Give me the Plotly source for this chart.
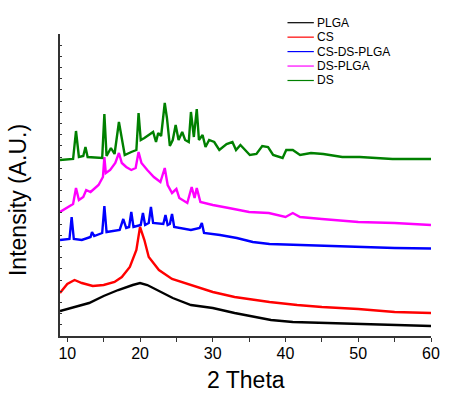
import plotly.graph_objects as go

# ---- data (2θ in degrees, intensity in arbitrary units) ----
series_names = ["PLGA", "CS", "CS-DS-PLGA", "DS-PLGA", "DS"]
series_colors = ["#000000", "#ff0000", "#0000ff", "#ff00ff", "#008000"]

plga_theta = [9, 11, 13, 15, 17, 19, 20, 21, 23, 24.5, 27, 30, 33, 36, 38, 41, 45, 50, 55, 60]
plga_int = [25, 29, 33, 40, 46, 51, 53, 51, 44, 38, 31, 28, 23, 19, 16, 14, 13, 12, 11, 10]

cs_theta = [9, 10, 11, 12, 13.5, 15, 16.5, 17.5, 18.6, 19.5, 20.0, 20.6, 21.2, 22.6, 24.4,
            27, 30, 33, 37.8, 41.6, 45, 50, 55, 60]
cs_int = [43, 52, 56, 53, 50, 51, 54, 59, 69, 86, 109, 96, 79, 66, 57,
          51, 44, 39, 34, 31, 29, 27, 24, 23]

csdsplga_theta = [9, 10.3, 10.6, 10.9, 12, 13.2, 13.4, 13.7, 14.8, 15.1, 15.4, 17.2, 17.7, 18.1,
                  18.5, 18.8, 19.1, 20.1, 20.4, 20.7, 21.2, 21.5, 21.8, 23.2, 23.5, 23.8, 24.1,
                  24.4, 24.7, 27, 28.2, 28.5, 28.8, 31, 33.3, 35.5, 37.8, 41.5, 45, 50, 55, 60]
csdsplga_int = [96, 97, 119, 97, 96, 99, 104, 100, 103, 130, 104, 106, 117, 108,
                109, 124, 109, 111, 123, 111, 113, 129, 113, 112, 121, 111, 112,
                122, 109, 106, 108, 113, 103, 101, 98, 94, 92, 91, 90, 89, 88, 87.5]

dsplga_theta = [9, 10, 10.8, 11.2, 11.6, 12.2, 12.6, 13.2, 14.3, 14.9, 15.1, 15.3, 15.9, 16.6,
                17.1, 17.5, 18.1, 18.8, 19.4, 19.8, 20.2, 21, 21.9, 22.8, 23.4, 23.8, 24.4,
                25, 25.4, 26.5, 27.1, 27.5, 27.8, 28.3, 30, 32.2, 35, 37.7, 40, 41, 42, 45,
                50, 55, 60]
dsplga_int = [124, 128, 132, 148, 136, 139, 146, 144, 151, 159, 179, 163, 166, 173,
              183, 173, 169, 166, 168, 184, 173, 166, 159, 154, 168, 151, 143,
              147, 138, 133, 149, 138, 148, 134, 131, 128, 124, 123, 119, 123, 119, 117,
              114, 113, 111]

ds_theta = [9, 10.8, 11.2, 11.6, 12.2, 12.5, 12.8, 14.8, 15.1, 15.4, 16, 16.5, 17.1, 17.5,
            17.9, 18.8, 19.5, 19.8, 20.1, 20.6, 21.3, 21.8, 22.2, 22.5, 22.9, 23.4, 23.7,
            24.1, 24.5, 24.9, 25.3, 25.8, 26.2, 26.7, 27.0, 27.4, 27.8, 28.1, 28.6, 29.0,
            29.5, 30.2, 30.9, 31.9, 32.7, 33.2, 33.8, 35.1, 36, 36.8, 37.6, 38.3, 39.6,
            40.1, 41, 42, 43.5, 45.2, 47.8, 50.2, 54.7, 60]
ds_int = [176, 177, 205, 179, 180, 189, 179, 178, 222, 180, 188, 182, 214, 196,
          181, 184, 186, 223, 196, 198, 201, 204, 194, 203, 200, 233, 218,
          190, 196, 211, 196, 204, 196, 194, 224, 199, 227, 196, 201, 189,
          196, 194, 186, 192, 194, 186, 191, 181, 182, 190, 189, 181, 178,
          186, 186, 181, 183, 182, 179, 179, 177, 177]

x_tickvals = [10, 15, 20, 25, 30, 35, 40, 45, 50, 55, 60]
x_ticktext = ["10", "", "20", "", "30", "", "40", "", "50", "", "60"]

thetas = [plga_theta, cs_theta, csdsplga_theta, dsplga_theta, ds_theta]
ints = [plga_int, cs_int, csdsplga_int, dsplga_int, ds_int]

W, H = 451, 394
L, R, T, B = 60, 11, 34, 58
PW, PH = W - L - R, H - T - B
FONT = "Liberation Sans, Arial, sans-serif"

def px2paper(px, py):
    return (px - L) / PW, (H - B - py) / PH

fig = go.Figure()
for name, col, xs, ys in zip(series_names, series_colors, thetas, ints):
    fig.add_trace(go.Scatter(x=xs, y=ys, mode="lines", name=name,
                             line=dict(color=col, width=2.4), showlegend=False))

# custom compact legend
for i, (name, col) in enumerate(zip(series_names, series_colors)):
    py = 22.7 + i * 14.45
    x0, y0 = px2paper(293, py)
    x1, _ = px2paper(320, py)
    fig.add_shape(type="line", xref="paper", yref="paper", x0=x0, x1=x1, y0=y0, y1=y0,
                  line=dict(color=col, width=1.2))
    xt, _ = px2paper(321, py)
    fig.add_annotation(xref="paper", yref="paper", x=xt, y=y0, text=name, showarrow=False,
                       xanchor="left", yanchor="middle", font=dict(family=FONT, size=12, color="#000"))

# axis titles
xa, ya = px2paper(17, 200)
fig.add_annotation(xref="paper", yref="paper", x=xa, y=ya, text="Intensity (A.U.)", textangle=-90,
                   showarrow=False, xanchor="center", yanchor="middle",
                   font=dict(family=FONT, size=23, color="#000"))
xb, yb = px2paper(250, 380)
fig.add_annotation(xref="paper", yref="paper", x=xb, y=yb, text="2 Theta",
                   showarrow=False, xanchor="center", yanchor="middle",
                   font=dict(family=FONT, size=23, color="#000"))

fig.update_layout(
    width=W, height=H,
    margin=dict(l=L, r=R, t=T, b=B, pad=0),
    paper_bgcolor="white", plot_bgcolor="white",
    font=dict(family=FONT, color="#000"),
    showlegend=False,
    xaxis=dict(range=[9, 60], tickvals=x_tickvals, ticktext=x_ticktext,
               ticks="outside", ticklen=4, tickwidth=1.2, tickcolor="#333",
               ticklabelstandoff=-2,
               showline=True, linecolor="#333", linewidth=1.5, showgrid=False, zeroline=False,
               tickfont=dict(family=FONT, size=16, color="#000")),
    yaxis=dict(range=[0, 302], tick0=0, dtick=302 / 27, showticklabels=False,
               ticks="inside", ticklen=2.5, tickwidth=1.2, tickcolor="#333",
               showline=True, linecolor="#333", linewidth=1.5, showgrid=False, zeroline=False),
)

fig.write_html("out.html")
